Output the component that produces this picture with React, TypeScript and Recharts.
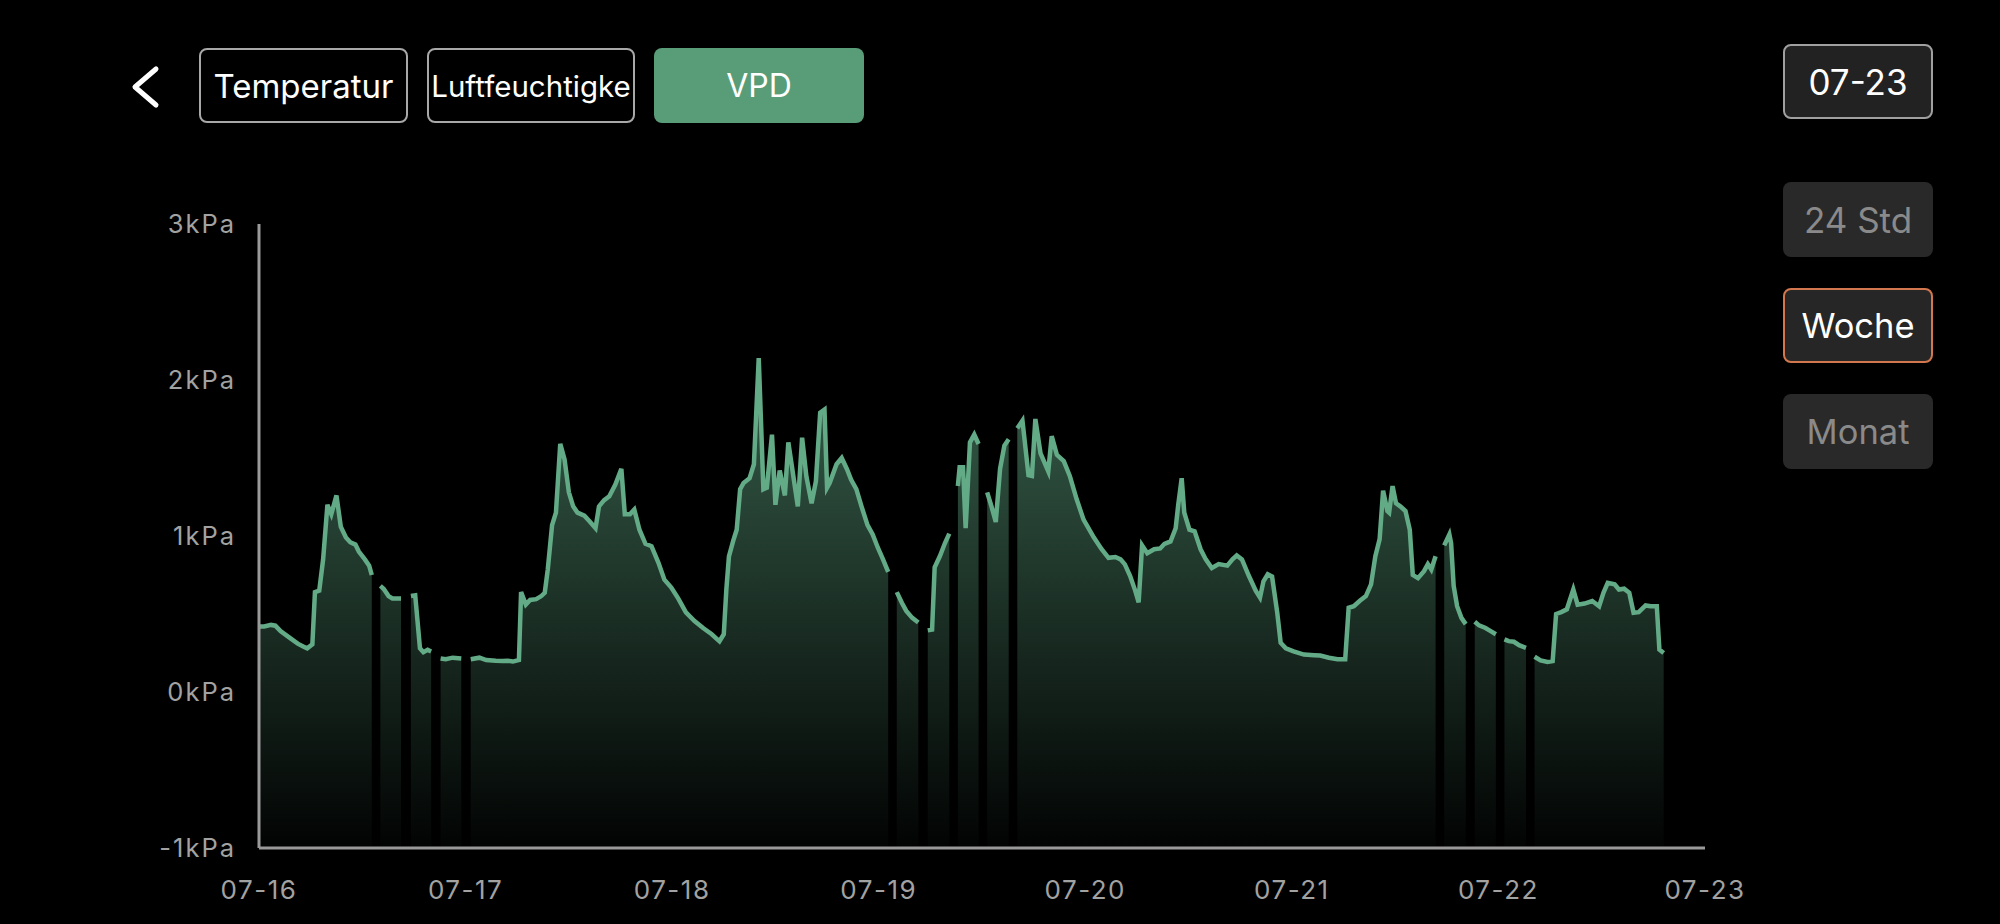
import { AreaChart, Area, XAxis, YAxis } from 'recharts'

const dayLabels = ['07-16', '07-17', '07-18', '07-19', '07-20', '07-21', '07-22', '07-23']
const vpdTicks = [-1, 0, 1, 2, 3]

// [hour of day, VPD in kPa] - null marks a missing reading (gap in the curve)
type Reading = [number, number | null]

const jul16: Reading[] = [
  [0.1, 0.42], [0.6, 0.42], [1.4, 0.43], [1.9, 0.425], [2.5, 0.39], [3.5, 0.35], [4.5, 0.31],
  [5.2, 0.29], [5.6, 0.28], [6.2, 0.305], [6.5, 0.64], [7.0, 0.65], [7.45, 0.85], [7.95, 1.2],
  [8.4, 1.14], [9.0, 1.26], [9.5, 1.06], [10.1, 0.99], [10.6, 0.96], [11.2, 0.945], [11.6, 0.9],
  [12.3, 0.85], [12.8, 0.81], [13.1, 0.75],
  [13.6, null],
  [14.1, 0.68], [14.5, 0.66], [15.05, 0.615], [15.5, 0.6], [16.5, 0.6],
  [17.1, null],
  [17.65, 0.615], [18.15, 0.62], [18.7, 0.28], [19.1, 0.255], [19.6, 0.27], [20.0, 0.26],
  [20.5, null],
  [21.1, 0.215], [21.7, 0.21], [22.5, 0.22], [23.5, 0.215],
]

const jul17: Reading[] = [
  [0.05, null],
  [0.6, 0.21], [1.6, 0.22], [2.4, 0.205], [3.5, 0.2], [4.3, 0.198], [4.9, 0.2], [5.5, 0.195],
  [6.2, 0.205], [6.45, 0.64], [7.0, 0.56], [7.5, 0.59], [8.2, 0.595], [8.8, 0.615], [9.2, 0.636],
  [9.55, 0.785], [10.05, 1.07], [10.5, 1.15], [11.0, 1.59], [11.5, 1.49], [12.0, 1.28], [12.5, 1.19],
  [13.0, 1.15], [13.8, 1.13], [14.4, 1.095], [15.1, 1.05], [15.5, 1.19], [16.1, 1.23], [16.7, 1.255],
  [17.4, 1.33], [18.1, 1.43], [18.5, 1.14], [19.1, 1.14], [19.6, 1.17], [20.2, 1.04], [20.9, 0.95],
  [21.6, 0.935], [22.4, 0.83], [23.1, 0.72], [23.9, 0.67],
]

const jul18: Reading[] = [
  [0.7, 0.6], [1.6, 0.51], [2.6, 0.455], [3.6, 0.41], [4.6, 0.37], [5.5, 0.325], [6.0, 0.37],
  [6.3, 0.66], [6.6, 0.87], [7.1, 0.97], [7.5, 1.04], [7.9, 1.3], [8.3, 1.34], [9.0, 1.37],
  [9.5, 1.46], [10.06, 2.14], [10.6, 1.3], [11.0, 1.31], [11.6, 1.65], [12.0, 1.2], [12.5, 1.42],
  [13.1, 1.26], [13.5, 1.6], [14.6, 1.19], [15.1, 1.63], [15.6, 1.38], [16.2, 1.21], [16.7, 1.35],
  [17.2, 1.79], [17.7, 1.81], [18.0, 1.31], [18.3, 1.34], [19.1, 1.46], [19.7, 1.5], [20.3, 1.43],
  [20.8, 1.36], [21.4, 1.3], [22.0, 1.19], [22.7, 1.07], [23.3, 1.01], [23.9, 0.925],
]

const jul19: Reading[] = [
  [0.5, 0.85], [1.1, 0.77],
  [1.6, null],
  [2.1, 0.64], [2.7, 0.57], [3.2, 0.52], [3.9, 0.475], [4.6, 0.445],
  [5.1, null],
  [5.7, 0.395], [6.2, 0.4], [6.5, 0.8], [7.1, 0.87], [7.7, 0.955], [8.2, 1.015],
  [8.7, null],
  [9.2, 1.32], [9.4, 1.44], [9.8, 1.44], [10.1, 1.05], [10.6, 1.6], [11.1, 1.65], [11.6, 1.59],
  [12.1, null],
  [12.6, 1.28], [13.1, 1.19], [13.6, 1.09], [14.1, 1.43], [14.6, 1.58], [15.1, 1.62],
  [15.6, null],
  [16.1, 1.69], [16.7, 1.74], [17.4, 1.39], [17.8, 1.385], [18.2, 1.75], [18.8, 1.53], [19.7, 1.415],
  [20.1, 1.64], [20.7, 1.52], [21.5, 1.48], [22.2, 1.385], [23.0, 1.235], [23.8, 1.105],
]

const jul20: Reading[] = [
  [1.0, 0.99], [1.9, 0.915], [2.7, 0.86], [3.5, 0.865], [4.1, 0.85], [4.6, 0.818], [5.2, 0.745],
  [5.8, 0.65], [6.2, 0.575], [6.6, 0.94], [7.2, 0.89], [8.0, 0.915], [8.7, 0.92], [9.2, 0.95],
  [9.9, 0.965], [10.5, 1.05], [10.8, 1.2], [11.2, 1.37], [11.5, 1.15], [12.1, 1.04], [12.7, 1.03],
  [13.4, 0.915], [14.0, 0.85], [14.7, 0.795], [15.5, 0.82], [16.5, 0.81], [17.1, 0.85], [17.6, 0.875],
  [18.2, 0.85], [19.0, 0.745], [19.8, 0.65], [20.3, 0.605], [20.7, 0.71], [21.2, 0.755], [21.7, 0.74],
  [22.3, 0.51], [22.7, 0.315], [23.3, 0.28],
]

const jul21: Reading[] = [
  [0.2, 0.26], [1.4, 0.24], [2.6, 0.236], [3.3, 0.234], [4.3, 0.22], [5.3, 0.21], [6.2, 0.21],
  [6.6, 0.54], [7.2, 0.55], [7.9, 0.585], [8.6, 0.615], [9.2, 0.69], [9.7, 0.87], [10.2, 0.98],
  [10.6, 1.29], [11.1, 1.16], [11.3, 1.15], [11.7, 1.32], [12.1, 1.21], [12.6, 1.19], [13.2, 1.16],
  [13.7, 1.04], [14.05, 0.75], [14.65, 0.73], [15.35, 0.775], [15.8, 0.82], [16.2, 0.785], [16.7, 0.87],
  [17.2, null],
  [17.7, 0.94], [18.3, 1.01], [18.5, 0.955], [18.8, 0.68], [19.2, 0.55], [19.7, 0.475], [20.2, 0.435],
  [20.7, null],
  [21.25, 0.45], [21.75, 0.427], [22.5, 0.41], [23.1, 0.39], [23.7, 0.37],
]

const jul22: Reading[] = [
  [0.2, null],
  [0.7, 0.337], [1.2, 0.326], [1.8, 0.322], [2.4, 0.3], [3.2, 0.283],
  [3.7, null],
  [4.2, 0.226], [4.9, 0.202], [5.7, 0.192], [6.3, 0.198], [6.7, 0.5], [7.3, 0.512], [7.95, 0.53],
  [8.7, 0.657], [9.2, 0.56], [10.0, 0.567], [10.9, 0.583], [11.7, 0.55], [12.2, 0.636], [12.7, 0.7],
  [13.5, 0.69], [14.0, 0.657], [14.6, 0.662], [15.2, 0.636], [15.7, 0.508], [16.3, 0.512],
  [17.1, 0.555], [17.7, 0.55], [18.4, 0.55], [18.7, 0.272], [19.2, 0.25],
]

const days = [jul16, jul17, jul18, jul19, jul20, jul21, jul22]
const data = days.flatMap((day, d) => day.map(([h, v]) => ({ t: d * 24 + h, vpd: v })))
const dayTicks = dayLabels.map((_, i) => i * 24)

const FONT = 'Inter, "Noto Sans", sans-serif'
const GREEN = '#63ab87'

function YTick({ x, y, payload }: any) {
  return (
    <text x={x} y={y} dy="0.36em" textAnchor="end" fill="#a2a2a2"
      style={{ fontFamily: FONT, fontSize: 25.5, letterSpacing: 2 }}>
      {payload.value}kPa
    </text>
  )
}

function XTick({ x, y, payload }: any) {
  return (
    <text x={x} y={y} dy="0.36em" textAnchor="middle" fill="#a2a2a2"
      style={{ fontFamily: FONT, fontSize: 26, letterSpacing: 1.5 }}>
      {dayLabels[Math.round(payload.value / 24)]}
    </text>
  )
}

const btn = (left: number, top: number, width: number, extra: any) => ({
  position: 'absolute' as const,
  left, top, width, height: 75,
  boxSizing: 'border-box' as const,
  borderRadius: 8,
  display: 'flex', alignItems: 'center', justifyContent: 'center',
  fontFamily: FONT,
  color: '#fff',
  whiteSpace: 'nowrap' as const,
  ...extra,
})

export default function App() {
  return (
    <div style={{ position: 'fixed', inset: 0, background: '#000', overflow: 'hidden' }}>
      <svg style={{ position: 'absolute', left: 0, top: 0 }} width={200} height={140}>
        <polyline points="156,69 135,87 156,105" fill="none" stroke="#fff" strokeWidth={5}
          strokeLinecap="round" strokeLinejoin="round" />
      </svg>

      <div style={btn(199, 48, 209, { border: '2px solid #a8a8a8', fontSize: 33 })}>Temperatur</div>
      <div style={btn(427, 48, 208, { border: '2px solid #a8a8a8', fontSize: 29.5 })}>Luftfeuchtigke</div>
      <div style={btn(654, 48, 210, { background: '#589d78', fontSize: 32 })}>VPD</div>

      <div style={btn(1783, 44, 150, { border: '2px solid #a0a0a0', background: '#222', fontSize: 35 })}>07-23</div>
      <div style={btn(1783, 182, 150, { background: '#292929', color: '#8a8a8a', fontSize: 35 })}>24 Std</div>
      <div style={btn(1783, 288, 150, { border: '2px solid #d3784e', background: '#262626', fontSize: 34.5 })}>Woche</div>
      <div style={btn(1783, 394, 150, { background: '#292929', color: '#8a8a8a', fontSize: 34.5 })}>Monat</div>

      <div style={{ position: 'absolute', left: 0, top: 0 }}>
        <AreaChart width={2000} height={924} data={data}
          margin={{ top: 224, right: 295, bottom: 16, left: 139 }}>
          <defs>
            <linearGradient id="vpdFill" x1="0" y1="0" x2="0" y2="1">
              <stop offset="0%" stopColor={GREEN} stopOpacity={0.55} />
              <stop offset="100%" stopColor={GREEN} stopOpacity={0.02} />
            </linearGradient>
          </defs>
          <XAxis type="number" dataKey="t" domain={[0, 168]} ticks={dayTicks} interval={0}
            height={60} tickSize={0} tickMargin={42} tick={<XTick />}
            axisLine={{ stroke: '#9a9a9a', strokeWidth: 3 }} tickLine={false} />
          <YAxis type="number" domain={[-1, 3]} ticks={vpdTicks} interval={0}
            width={120} tickSize={0} tickMargin={23} tick={<YTick />}
            axisLine={{ stroke: '#9a9a9a', strokeWidth: 3 }} tickLine={false} />
          <Area type="linear" dataKey="vpd" baseValue="dataMin" connectNulls={false}
            stroke={GREEN} strokeWidth={4.5} fill="url(#vpdFill)" fillOpacity={1}
            dot={false} activeDot={false} isAnimationActive={false} />
        </AreaChart>
      </div>
    </div>
  )
}
